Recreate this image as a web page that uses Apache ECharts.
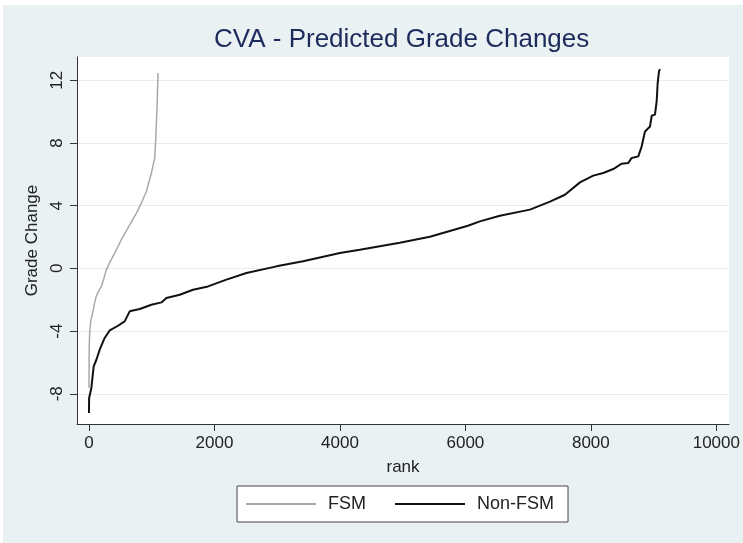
<!DOCTYPE html>
<html>
<head>
<meta charset="utf-8">
<script src="https://cdn.jsdelivr.net/npm/echarts@6/dist/echarts.min.js"></script>
<style>
  html, body { margin: 0; padding: 0; background: #fff; }
  #chart { position: absolute; left: 3px; top: 5px; width: 740px; height: 538px; }
</style>
</head>
<body>
<div id="chart"></div>
<script>
// FSM pupils, ranked predicted grade change
var fsmRank = [0, 3, 11, 30, 64, 90, 118, 160, 198, 240, 277, 340, 410, 516, 622, 756, 835, 915, 995, 1048, 1064, 1085, 1101];
var fsmValue = [-7.63, -5.19, -4.12, -3.3, -2.74, -2.2, -1.75, -1.4, -1.15, -0.6, -0.08, 0.45, 0.98, 1.83, 2.58, 3.53, 4.17, 4.91, 6.09, 7.05, 8.21, 10.34, 12.47];

// Non-FSM pupils
var nonRank = [0, 2, 27, 38, 64, 75, 118, 171, 250, 330, 463, 569, 649, 809, 995, 1155, 1234, 1447, 1659, 1898, 2191, 2510, 2989, 3413, 4000, 4317, 4955, 5434, 6040, 6231, 6550, 7029, 7348, 7587, 7826, 8038, 8198, 8357, 8491, 8597, 8651, 8756, 8810, 8863, 8943, 8970, 9022, 9049, 9065, 9086, 9102];
var nonValue = [-9.23, -8.27, -8.17, -7.63, -7.53, -6.25, -5.83, -5.19, -4.44, -3.96, -3.66, -3.38, -2.74, -2.59, -2.32, -2.17, -1.89, -1.68, -1.36, -1.15, -0.72, -0.29, 0.13, 0.45, 0.98, 1.19, 1.64, 2.02, 2.72, 3.0, 3.36, 3.75, 4.26, 4.7, 5.49, 5.92, 6.09, 6.34, 6.68, 6.73, 7.05, 7.15, 7.79, 8.74, 9.06, 9.74, 9.81, 10.66, 11.83, 12.57, 12.72];

var xTicks = [0, 2000, 4000, 6000, 8000, 10000];
var yTicks = [-8, -4, 0, 4, 8, 12];
var xMin = -191, xMax = 10202;
var yMin = -9.93, yMax = 13.49;

function pairs(xs, ys) {
    return xs.map(function(x, i) { return [x, ys[i]]; });
}

var myChart = echarts.init(document.getElementById('chart'));
var font = 'Liberation Sans, Arial, sans-serif';

var option = {
    backgroundColor: '#e9f1f3',
    animation: false,
    title: {
        text: 'CVA - Predicted Grade Changes',
        left: 206,
        top: 17,
        textStyle: { fontFamily: font, fontSize: 26, fontWeight: 'normal', color: '#1c2b5b' }
    },
    grid: {
        left: 74, top: 52, right: 14, bottom: 119,
        show: true, backgroundColor: '#fff', borderWidth: 0
    },
    xAxis: {
        type: 'value', min: xMin, max: xMax,
        name: 'rank', nameLocation: 'middle', nameGap: 35,
        nameTextStyle: { fontFamily: font, fontSize: 17, color: '#222' },
        axisLine: { show: true, onZero: false, lineStyle: { color: '#333', width: 1 } },
        axisTick: { show: true, length: 7, customValues: xTicks, lineStyle: { color: '#333' } },
        axisLabel: {
            customValues: xTicks, margin: 11, fontFamily: font, fontSize: 17, color: '#222',
            formatter: function(v) { return String(v); }
        },
        splitLine: { show: false }
    },
    yAxis: {
        type: 'value', min: yMin, max: yMax,
        name: 'Grade Change', nameLocation: 'middle', nameGap: 33, nameRotate: 90,
        nameTextStyle: { fontFamily: font, fontSize: 17, color: '#222' },
        axisLine: { show: true, onZero: false, lineStyle: { color: '#333', width: 1 } },
        axisTick: { show: true, length: 7, customValues: yTicks, lineStyle: { color: '#333' } },
        axisLabel: { customValues: yTicks, rotate: 90, margin: 11, fontFamily: font, fontSize: 17, color: '#222' },
        splitLine: { show: true, lineStyle: { color: '#e4eef1', width: 1 } }
    },
    legend: {
        data: ['FSM', 'Non-FSM'],
        left: 234, top: 481,
        icon: 'rect',
        itemWidth: 70, itemHeight: 2, itemGap: 29,
        padding: [9, 14, 9, 9],
        backgroundColor: '#fff', borderColor: '#444', borderWidth: 1,
        textStyle: { fontFamily: font, fontSize: 18, color: '#222', padding: [0, 0, 0, 7] }
    },
    series: [{
        name: 'FSM',
        type: 'line',
        symbol: 'none',
        data: pairs(fsmRank, fsmValue),
        lineStyle: { color: '#a9a9a9', width: 1.5 },
        itemStyle: { color: '#a9a9a9' }
    }, {
        name: 'Non-FSM',
        type: 'line',
        symbol: 'none',
        data: pairs(nonRank, nonValue),
        lineStyle: { color: '#111', width: 2 },
        itemStyle: { color: '#111' }
    }]
};

myChart.setOption(option);
</script>
</body>
</html>
